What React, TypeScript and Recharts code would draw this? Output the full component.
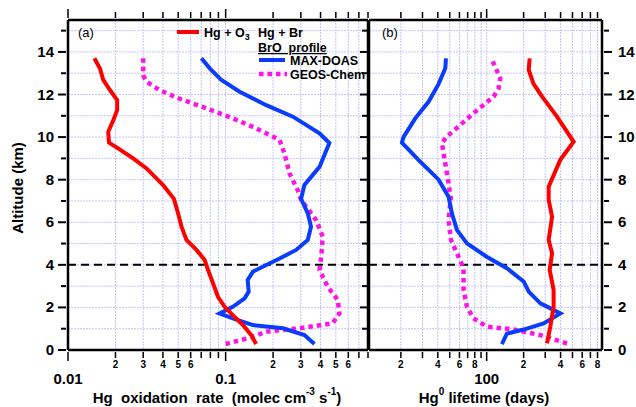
import { ScatterChart, Scatter, XAxis, YAxis, CartesianGrid, ReferenceLine } from 'recharts';

// altitude axis (km)
const altTicks = [0, 1, 2, 3, 4, 5, 6, 7, 8, 9, 10, 11, 12, 13, 14, 15];

// panel (a): Hg oxidation rate
const rateTicks = [0.01, 0.02, 0.03, 0.04, 0.05, 0.06, 0.07, 0.08, 0.09, 0.1, 0.2, 0.3, 0.4, 0.5, 0.6, 0.7, 0.8];

const o3RateAlt = [13.7, 13.2, 12.7, 12.2, 11.74, 11.27, 10.8, 10.25, 9.74, 9.47, 9.0, 8.53, 7.75, 7.1, 6.42, 5.79, 5.17, 4.7, 4.23, 3.76, 3.13, 2.5, 2.03, 1.64, 1.17, 0.7, 0.28];
const o3Rate = [0.0147, 0.016, 0.0167, 0.0185, 0.0205, 0.0205, 0.0194, 0.018, 0.0182, 0.0208, 0.0259, 0.0315, 0.0401, 0.047, 0.0499, 0.0525, 0.0564, 0.0653, 0.0736, 0.0773, 0.0832, 0.0894, 0.0986, 0.111, 0.1288, 0.1455, 0.156];

const doasRateAlt = [13.7, 13.23, 12.68, 12.13, 11.5, 10.96, 10.18, 9.72, 8.6, 7.75, 7.1, 6.42, 5.79, 5.17, 4.7, 4.3, 3.91, 3.68, 3.29, 2.74, 2.43, 2.03, 1.72, 1.49, 1.17, 1.02, 0.7, 0.28];
const doasRate = [0.0702, 0.0793, 0.094, 0.1227, 0.181, 0.267, 0.394, 0.455, 0.394, 0.316, 0.301, 0.332, 0.348, 0.332, 0.28, 0.22, 0.172, 0.149, 0.138, 0.14, 0.132, 0.111, 0.0916, 0.111, 0.149, 0.231, 0.316, 0.366];

const geosRateAlt = [13.7, 12.9, 12.6, 12.2, 11.8, 11.35, 10.88, 10.41, 9.86, 9.24, 8.3, 7.5, 7.05, 6.1, 5.32, 4.38, 3.76, 2.97, 2.35, 1.72, 1.25, 1.02, 0.86, 0.62, 0.28];
const geosRate = [0.03, 0.03, 0.0315, 0.0382, 0.0511, 0.0755, 0.111, 0.156, 0.22, 0.236, 0.254, 0.287, 0.301, 0.375, 0.413, 0.404, 0.394, 0.444, 0.514, 0.527, 0.477, 0.294, 0.181, 0.149, 0.1];

// panel (b): Hg0 lifetime (days)
const lifeTicks = [20, 30, 40, 50, 60, 70, 80, 90, 100, 200, 300, 400, 500, 600, 700, 800];

const o3LifeAlt = [13.7, 13.15, 12.5, 11.9, 10.96, 9.78, 8.93, 7.67, 7.05, 6.26, 5.17, 4.54, 3.76, 2.82, 2.03, 1.1, 0.31];
const o3Life = [224, 220, 241, 283, 374, 511, 398, 320, 320, 341, 320, 341, 326, 351, 351, 330, 310];

const doasLifeAlt = [13.7, 13.23, 12.5, 11.66, 10.88, 10.0, 9.74, 8.93, 8.0, 7.2, 6.42, 5.64, 5.01, 4.38, 3.84, 3.22, 2.74, 2.19, 1.72, 1.25, 0.96, 0.77, 0.28];
const doasLife = [46.6, 46, 40.6, 33.6, 26.2, 21, 20.4, 27.8, 40.6, 48.9, 52.1, 57.2, 69, 100, 146, 200, 220, 274, 398, 291, 200, 146, 133];

const geosLifeAlt = [13.56, 12.76, 12.29, 11.9, 11.12, 10.57, 10.0, 9.7, 8.77, 7.83, 7.12, 6.1, 5.17, 4.38, 3.84, 2.82, 2.03, 1.49, 1.1, 0.96, 0.7, 0.28];
const geosLife = [112, 129, 125, 114, 78, 61, 46.8, 43.2, 46, 48.9, 51, 48.9, 51.2, 59, 64.8, 64.8, 69, 78, 100, 166, 274, 466];

const RED = '#ff0000';
const BLUE = '#0a3cff';
const MAGENTA = '#ff14e6';
const GRID = '#c4c4ff';

const toRows = (alt: number[], val: number[]) => alt.map((a, i) => ({ alt: a, v: val[i] }));

const mantissa = (v: number) => Math.round(v / Math.pow(10, Math.floor(Math.log10(v) + 1e-9)));

const noDot = () => <g />;

const bottomTick = (labelSet: number[]) => (p: any) => {
  const { x, y, payload } = p;
  const m = mantissa(payload.value);
  const major = m === 1;
  return (
    <g>
      <line x1={x} x2={x} y1={y} y2={y + (major ? 9 : 6)} stroke="#000" strokeWidth={1.5} />
      {major ? (
        <text x={x} y={y + 32} textAnchor="middle" fontSize={15} fontWeight="bold" fill="#000">
          {String(payload.value)}
        </text>
      ) : labelSet.includes(m) ? (
        <text x={x} y={y + 16} textAnchor="middle" fontSize={10} fontWeight="bold" fill="#000">
          {m}
        </text>
      ) : null}
    </g>
  );
};

const topTick = (p: any) => {
  const { x, y, payload } = p;
  const major = mantissa(payload.value) === 1;
  return <line x1={x} x2={x} y1={y} y2={y - (major ? 9 : 6)} stroke="#000" strokeWidth={1.5} />;
};

const leftTick = (showLabel: boolean) => (p: any) => {
  const { x, y, payload } = p;
  const major = payload.value % 2 === 0;
  return (
    <g>
      <line x1={x} x2={x - (major ? 8 : 5)} y1={y} y2={y} stroke="#000" strokeWidth={2} />
      {showLabel && major ? (
        <text x={x - 12} y={y + 5} textAnchor="end" fontSize={15} fontWeight="bold" fill="#000">
          {payload.value}
        </text>
      ) : null}
    </g>
  );
};

const rightTick = (p: any) => {
  const { x, y, payload } = p;
  const major = payload.value % 2 === 0;
  return (
    <g>
      <line x1={x} x2={x + (major ? 8 : 5)} y1={y} y2={y} stroke="#000" strokeWidth={2} />
      {major ? (
        <text x={x + 14} y={y + 5} textAnchor="start" fontSize={15} fontWeight="bold" fill="#000">
          {payload.value}
        </text>
      ) : null}
    </g>
  );
};

const axisLine = { stroke: '#000', strokeWidth: 2.5 };

function Labels() {
  return (
    <div style={{ position: 'absolute', left: 0, top: 0, width: 636, height: 407, pointerEvents: 'none' }}>
      <svg width={636} height={407} style={{ position: 'absolute', left: 0, top: 0 }}>
        <text x={78} y={37} fontSize={13} fill="#000">(a)</text>
        <text x={382} y={37} fontSize={13} fill="#000">(b)</text>
        <line x1={177} x2={199} y1={32} y2={32} stroke={RED} strokeWidth={4} />
        <text x={204} y={37} fontSize={12.5} fontWeight="bold" fill="#000">
          Hg + O<tspan dy={3} fontSize={9}>3</tspan>
        </text>
        <text x={258} y={37} fontSize={12.5} fontWeight="bold" fill="#000">Hg + Br</text>
        <text x={258} y={52} fontSize={12.5} fontWeight="bold" fill="#000" textDecoration="underline">{'BrO\u00a0 profile'}</text>
        <line x1={259} x2={285} y1={60} y2={60} stroke={BLUE} strokeWidth={4} />
        <text x={290} y={65} fontSize={12.5} fontWeight="bold" fill="#000">MAX-DOAS</text>
        <line x1={259} x2={287} y1={74} y2={74} stroke={MAGENTA} strokeWidth={4.5} strokeDasharray="4.5 4" />
        <text x={290} y={79} fontSize={12.5} fontWeight="bold" fill="#000">GEOS-Chem</text>
        <text transform="translate(23,188) rotate(-90)" textAnchor="middle" fontSize={15} fontWeight="bold" fill="#000">
          Altitude (km)
        </text>
        <text x={217} y={403} textAnchor="middle" fontSize={15} fontWeight="bold" fill="#000">
          {'Hg\u00a0 oxidation\u00a0 rate\u00a0 (molec cm'}<tspan dy={-8} fontSize={10}>-3</tspan><tspan dy={8}>{'\u00a0s'}</tspan><tspan dy={-8} fontSize={10}>-1</tspan><tspan dy={8}>)</tspan>
        </text>
        <text x={484} y={403} textAnchor="middle" fontSize={15} fontWeight="bold" fill="#000">
          Hg<tspan dy={-8} fontSize={10}>0</tspan><tspan dy={8}>{'\u00a0lifetime (days)'}</tspan>
        </text>
      </svg>
    </div>
  );
}

export default function App() {
  return (
    <div style={{ position: 'absolute', left: 0, top: 0, width: 636, height: 407, background: '#fff', fontFamily: '"Liberation Sans", Arial, sans-serif' }}>
      <div style={{ position: 'absolute', left: 0, top: 0 }}>
        <ScatterChart width={370} height={407} margin={{ top: 10, right: 0, bottom: 7, left: 0 }}>
          <CartesianGrid xAxisId="b" yAxisId="l" stroke={GRID} strokeDasharray="2 1" strokeWidth={1} />
          <XAxis xAxisId="b" type="number" dataKey="v" scale="log" domain={[0.01, 0.8]} ticks={rateTicks} allowDataOverflow
            orientation="bottom" height={50} tickSize={0} tickLine={false} axisLine={axisLine} tick={bottomTick([2, 3, 4, 5, 6])} interval={0} />
          <XAxis xAxisId="t" type="number" dataKey="v" scale="log" domain={[0.01, 0.8]} ticks={rateTicks} allowDataOverflow
            orientation="top" height={10} tickSize={0} tickLine={false} axisLine={axisLine} tick={topTick} interval={0} />
          <YAxis yAxisId="l" type="number" dataKey="alt" domain={[0, 15.5]} ticks={altTicks} allowDataOverflow
            width={68} tickSize={0} tickLine={false} axisLine={axisLine} tick={leftTick(true)} interval={0} />
          <YAxis yAxisId="r" orientation="right" type="number" dataKey="alt" domain={[0, 15.5]} ticks={altTicks}
            width={2} tickSize={0} tickLine={false} axisLine={axisLine} tick={false} />
          <ReferenceLine xAxisId="b" yAxisId="l" y={4} stroke="#000" strokeWidth={2} strokeDasharray="8 5" />
          <Scatter xAxisId="b" yAxisId="l" data={toRows(geosRateAlt, geosRate)} shape={noDot} fill="none" isAnimationActive={false}
            line={{ stroke: MAGENTA, strokeWidth: 4.5, strokeDasharray: '4.5 4' }} />
          <Scatter xAxisId="b" yAxisId="l" data={toRows(doasRateAlt, doasRate)} shape={noDot} fill="none" isAnimationActive={false}
            line={{ stroke: BLUE, strokeWidth: 4 }} />
          <Scatter xAxisId="b" yAxisId="l" data={toRows(o3RateAlt, o3Rate)} shape={noDot} fill="none" isAnimationActive={false}
            line={{ stroke: RED, strokeWidth: 4 }} />
        </ScatterChart>
      </div>
      <div style={{ position: 'absolute', left: 360, top: 0 }}>
        <ScatterChart width={276} height={407} margin={{ top: 10, right: 0, bottom: 7, left: 0 }}>
          <CartesianGrid xAxisId="b" yAxisId="l" stroke={GRID} strokeDasharray="2 1" strokeWidth={1} />
          <XAxis xAxisId="b" type="number" dataKey="v" scale="log" domain={[11, 870]} ticks={lifeTicks} allowDataOverflow
            orientation="bottom" height={50} tickSize={0} tickLine={false} axisLine={axisLine} tick={bottomTick([2, 4, 6, 8])} interval={0} />
          <XAxis xAxisId="t" type="number" dataKey="v" scale="log" domain={[11, 870]} ticks={lifeTicks} allowDataOverflow
            orientation="top" height={10} tickSize={0} tickLine={false} axisLine={axisLine} tick={topTick} interval={0} />
          <YAxis yAxisId="l" type="number" dataKey="alt" domain={[0, 15.5]} ticks={altTicks} allowDataOverflow
            width={9} tickSize={0} tickLine={false} axisLine={axisLine} tick={leftTick(false)} interval={0} />
          <YAxis yAxisId="r" orientation="right" type="number" dataKey="alt" domain={[0, 15.5]} ticks={altTicks} allowDataOverflow
            width={34} tickSize={0} tickLine={false} axisLine={axisLine} tick={rightTick} interval={0} />
          <ReferenceLine xAxisId="b" yAxisId="l" y={4} stroke="#000" strokeWidth={2} strokeDasharray="8 5" />
          <Scatter xAxisId="b" yAxisId="l" data={toRows(geosLifeAlt, geosLife)} shape={noDot} fill="none" isAnimationActive={false}
            line={{ stroke: MAGENTA, strokeWidth: 4.5, strokeDasharray: '4.5 4' }} />
          <Scatter xAxisId="b" yAxisId="l" data={toRows(doasLifeAlt, doasLife)} shape={noDot} fill="none" isAnimationActive={false}
            line={{ stroke: BLUE, strokeWidth: 4 }} />
          <Scatter xAxisId="b" yAxisId="l" data={toRows(o3LifeAlt, o3Life)} shape={noDot} fill="none" isAnimationActive={false}
            line={{ stroke: RED, strokeWidth: 4 }} />
        </ScatterChart>
      </div>
      <Labels />
    </div>
  );
}
